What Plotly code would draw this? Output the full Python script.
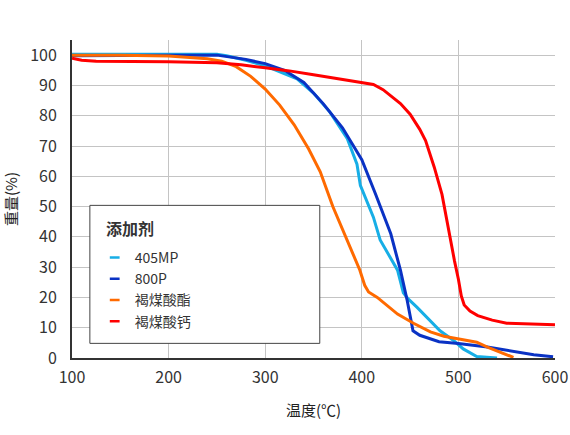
import plotly.graph_objects as go

# --- données ---
t_405mp = [100, 150, 200, 250, 260, 280, 300, 320, 333, 350, 367, 385, 395, 398.5, 402, 412, 419, 437, 443, 448, 457, 470, 481, 495, 505, 519, 540]
w_405mp = [100.3, 100.3, 100.3, 100.3, 99.8, 98.3, 96.5, 94, 92.2, 87.5, 81.2, 72.4, 64, 57, 54.3, 46.5, 39, 29, 21.5, 19.5, 16.8, 12.5, 9, 5.8, 3, 0.5, 0]

t_800p = [100, 150, 200, 250, 260, 280, 300, 320, 340, 360, 380, 400, 414, 430, 440, 447, 453, 460, 480, 500, 530, 550, 578, 598]
w_800p = [99.8, 100, 100, 100, 99.5, 98.6, 97.2, 95, 91, 84, 76, 65.5, 54.3, 41, 29, 19, 9, 7.5, 5.4, 4.8, 3.6, 2.5, 1.1, 0.4]

t_ester = [100, 150, 200, 240, 255, 270, 285, 300, 315, 330, 345, 357, 370, 385, 398, 403, 407, 416, 426, 437, 454, 471, 485, 499, 519, 530, 545, 557]
w_ester = [100, 100, 99.7, 98.8, 98, 96.2, 93, 88.8, 83.5, 77, 69, 61.5, 50, 38.5, 29, 24, 21.8, 20, 17.4, 14.5, 11.4, 8.6, 7.2, 6.4, 5.2, 3.6, 1.8, 0.2]

t_ca = [100, 110, 125, 150, 200, 250, 275, 300, 325, 350, 375, 400, 412, 422, 430, 440, 450, 460, 466, 475, 483, 488, 492, 496, 500, 503, 506, 512, 520, 535, 550, 575, 600]
w_ca = [99.0, 98.3, 98.0, 98.0, 97.8, 97.5, 96.8, 95.8, 94.8, 93.5, 92.2, 91.1, 90.3, 88.6, 86.5, 84.0, 80.5, 75.5, 71.8, 63, 54, 45, 38.8, 32, 26, 20.5, 17.5, 15.5, 14, 12.5, 11.5, 11.2, 11.0]

series = [
    ("405MP", t_405mp, w_405mp, "#17aee6"),
    ("800P", t_800p, w_800p, "#0a32c4"),
    ("褐煤酸酯", t_ester, w_ester, "#ff6a00"),
    ("褐煤酸钙", t_ca, w_ca, "#ff0000"),
]

x_ticks = [100, 200, 300, 400, 500, 600]
y_ticks = [0, 10, 20, 30, 40, 50, 60, 70, 80, 90, 100]

FONT = "Noto Sans CJK SC"

fig = go.Figure()

# courbes
for name, t, w, col in series:
    fig.add_trace(go.Scatter(
        x=t, y=w, mode="lines", name=name,
        line=dict(color=col, width=3),
        showlegend=False
    ))

# entrées de légende (petit trait court)
for name, t, w, col in series:
    fig.add_trace(go.Scatter(
        x=[None], y=[None], mode="markers", name=name,
        marker=dict(symbol="line-ew", size=7, line=dict(color=col, width=2.5)),
        showlegend=True
    ))

# cadre de la légende + titre
fig.add_shape(type="rect", xref="paper", yref="paper",
              x0=0.037, x1=0.513, y0=0.046, y1=0.48,
              line=dict(color="#444444", width=1), fillcolor="white", layer="above")
fig.add_annotation(text="<b>添加剂</b>", xref="paper", yref="paper",
                   x=0.066, y=0.408, xanchor="left", yanchor="middle",
                   showarrow=False, font=dict(size=16, color="#333333"))

fig.update_layout(
    width=570, height=435,
    paper_bgcolor="white", plot_bgcolor="white",
    font=dict(family=FONT, size=15, color="#333333"),
    margin=dict(l=72, r=15, t=40, b=77),
    xaxis=dict(
        range=[100, 600], tickvals=x_ticks, automargin=False,
        showgrid=True, gridcolor="#c4c4c4", gridwidth=1,
        showline=True, linecolor="#333333", linewidth=2,
        zeroline=False, ticks="", ticklabelstandoff=4,
        tickfont=dict(size=16, color="#333333"),
        title=dict(text="温度(℃)", font=dict(size=15, color="#222222"), standoff=18),
    ),
    yaxis=dict(
        range=[0, 105], tickvals=y_ticks, automargin=False,
        showgrid=True, gridcolor="#c4c4c4", gridwidth=1,
        showline=True, linecolor="#333333", linewidth=2,
        zeroline=False, ticks="", ticklabelstandoff=10,
        tickfont=dict(size=16, color="#333333"),
        title=dict(text="重量(%)", font=dict(size=15, color="#222222"), standoff=12),
    ),
    legend=dict(
        x=0.047, y=0.365, xanchor="left", yanchor="top",
        bgcolor="rgba(0,0,0,0)", borderwidth=0,
        font=dict(size=14, color="#333333"),
        itemwidth=30, tracegroupgap=0,
    ),
)

# enlève la marge de 8 px du <body> pour que la figure tienne dans la fenêtre
fig.write_html("out.html",
               config={"displayModeBar": False},
               post_script="document.body.style.margin='0';document.body.style.overflow='hidden';")
